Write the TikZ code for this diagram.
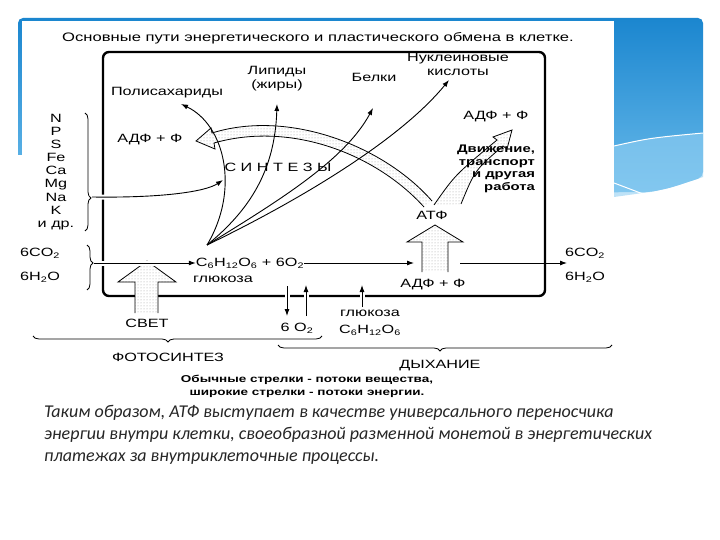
\documentclass[tikz,border=0pt]{standalone}
\usepackage{fontspec}
\setmainfont[FakeStretch=1.35]{Liberation Sans}
\newfontfamily\slidefont{Carlito}
\usetikzlibrary{arrows.meta,patterns,decorations.pathreplacing,positioning}

\definecolor{slideblue}{HTML}{1B86CF}
\definecolor{slidelight}{HTML}{6BBCEB}
\definecolor{swooshblue}{HTML}{93D0F3}

\tikzset{
  lbl/.style={font=\fontsize{12}{14}\selectfont, inner sep=0pt},
  matter/.style={line width=0.9pt, -{Latex[length=7pt,width=5pt]}},
  gapw/.style={preaction={draw=white, line width=5pt, arrows=-}},
  energy/.style={line width=0.8pt, pattern=dots, pattern color=gray!75},
  cellwall/.style={line width=2.4pt, rounded corners=6pt},
  brc/.style={decorate, decoration={brace, amplitude=6pt, aspect=#1}, line width=0.8pt},
}

\begin{document}
\begin{tikzpicture}[x=1pt,y=-1pt]
\useasboundingbox (0,0) rectangle (720,540);
\fill[white] (0,0) rectangle (720,540);
% slide decoration
\shade[top color=slideblue, bottom color=slidelight, rounded corners=5pt]
  (18,18) -- (703,18) -- (703,177) .. controls (670,188) .. (650,192) -- (18,197) -- cycle;
\fill[swooshblue, opacity=0.6] (614,146) .. controls (650,138) .. (703,133) -- (703,177) .. controls (670,188) .. (650,192) -- (614,197) -- cycle;
\draw[white, line width=1pt] (614,146) .. controls (650,138) .. (703,133);
\draw[white, line width=1pt] (614,183) .. controls (630,189) .. (643,194);
\fill[white] (22,21) rectangle (614,392);
\fill[white] (15,155) rectangle (23,200);

% title
\node[font=\fontsize{12.3}{14}\selectfont] (title) at (318,38) {Основные пути энергетического и пластического обмена в клетке.};

% cell
\draw[cellwall] (103,52) rectangle (545,296);

% energy bands
\path[energy] (432,201) .. controls (384,146) and (289,109) .. (212,133) -- (211,128) -- (196,141)
  -- (215,149) -- (214,143) .. controls (291,121) and (376,154) .. (424,207) -- cycle;
\draw[line width=0.8pt] (432,201) .. controls (384,146) and (289,109) .. (212,133) -- (211,128) -- (196,141)
  -- (215,149) -- (214,143) .. controls (291,121) and (376,154) .. (424,207);
\path[energy] (434,205) .. controls (455,175) .. (497,140) -- (493,137) -- (512,130) -- (507,149)
  -- (503,146) .. controls (475,170) .. (461,204) -- cycle;
\draw[line width=0.8pt] (434,205) .. controls (455,175) .. (497,140) -- (493,137) -- (512,130) -- (507,149)
  -- (503,146) .. controls (475,170) .. (461,204);

% wide arrows
\path[energy] (422,272) -- (422,242) -- (407,242) -- (435,225) -- (463,242) -- (448,242) -- (448,272) -- cycle;
\draw[line width=0.8pt] (422,272) -- (422,242) -- (407,242) -- (435,225) -- (463,242) -- (448,242) -- (448,272);
\path[energy, preaction={fill=white}] (135,313) -- (135,282) -- (118,282) -- (147,261) -- (176,282) -- (158,282) -- (158,313) -- cycle;
\draw[line width=0.8pt] (135,313) -- (135,282) -- (118,282) -- (147,261) -- (176,282) -- (158,282) -- (158,313);

% labels
\node[lbl] (polysac) at (167,93) {Полисахариды};
\node[lbl, align=center] (lipids) at (277,79) {Липиды\\(жиры)};
\node[lbl] (proteins) at (374,77) {Белки};
\node[lbl, align=center] (nucleic) at (458,64) {Нуклеиновые\\кислоты};
\node[lbl] (adpR) at (496,117) {АДФ + Ф};
\node[lbl, align=right, font=\bfseries\fontsize{11}{12.5}\selectfont] (work) at (496,169) {Движение,\\транспорт\\и другая\\работа};
\node[lbl] (adpL) at (150,140) {АДФ + Ф};
\node[lbl] (synth) at (278,167) {С И Н Т Е З Ы};
\node[font=\fontsize{12}{13.1}\selectfont, inner sep=0pt, align=center] (elems) at (56,172) {N\\P\\S\\Fe\\Ca\\Mg\\Na\\K\\и др.};
\node[lbl] (co2L) at (40,253) {6CO\textsubscript{2}};
\node[lbl] (h2oL) at (40,277) {6H\textsubscript{2}O};
\node[lbl] (gluc) at (250,263) {C\textsubscript{6}H\textsubscript{12}O\textsubscript{6} + 6O\textsubscript{2}};
\node[lbl] (glucname) at (223,279) {глюкоза};
\node[lbl] (atp) at (432,215) {АТФ};
\node[lbl] (adp) at (433,285) {АДФ + Ф};
\node[lbl] (co2R) at (585,253) {6CO\textsubscript{2}};
\node[lbl] (h2oR) at (585,277) {6H\textsubscript{2}O};
\node[lbl] (light) at (147,323) {СВЕТ};
\node[lbl] (oxy) at (297,328) {6 O\textsubscript{2}};
\node[lbl] (glucB) at (370,313) {глюкоза};
\node[lbl] (c6B) at (370,330) {C\textsubscript{6}H\textsubscript{12}O\textsubscript{6}};
\node[lbl] (photo) at (168,357) {ФОТОСИНТЕЗ};
\node[lbl] (resp) at (440,366) {ДЫХАНИЕ};
\node[font=\bfseries\fontsize{10}{13}\selectfont, inner sep=0pt, align=center] (legend) at (307,386) {Обычные стрелки - потоки вещества,\\широкие стрелки - потоки энергии.};
\node[font=\slidefont\itshape\fontsize{18}{22}\selectfont, text=black!85, inner sep=0pt, align=left, anchor=north west] (summary) at (44,405)
  {Таким образом, АТФ выступает в качестве универсального переносчика\\энергии внутри клетки, своеобразной разменной монетой в энергетических\\платежах за внутриклеточные процессы.};

% braces
\draw[brc=0.72] (85,113) -- (85,231);
\draw[brc=0.4] (87,245) -- (87,290);
\draw[brc=0.533] (322,336) -- (33,336);
\draw[brc=0.515] (612,345) -- (278,345);

% points for the connectors
\coordinate (elbr) at (92,197);
\coordinate (synthin) at (223,180);
\coordinate (co2br) at (94,263);
\coordinate (src) at (207,245);
\coordinate (polytip) at (181,104);
\coordinate (liptip) at (277,104);
\coordinate (prottip) at (373,108);
\coordinate (nuctip) at (449,80);
\coordinate (atpL) at (414,263);
\coordinate (atpR) at (460,263);
\coordinate (outR) at (567,263);
\coordinate (downtop) at (287,286);
\coordinate (downend) at (287,316);
\coordinate (uptop) at (306,285);
\coordinate (upend) at (306,316);
\coordinate (glucbot) at (362,307);
\coordinate (gluctop) at (362,285);

% matter flows
\draw[matter, gapw] (elbr) .. controls (160,198) and (205,192) .. (synthin);
\draw[matter, gapw] (co2br) -- (gluc.west);
\draw[matter] (gluc.east) -- (atpL);
\draw[matter] (atpR) -- (outR);
\draw[matter] (src) .. controls (240,190) and (225,125) .. (polytip);
\draw[matter] (src) .. controls (250,210) and (275,170) .. (liptip);
\draw[matter] (src) .. controls (280,200) and (345,160) .. (prottip);
\draw[matter] (src) .. controls (300,200) and (400,140) .. (nuctip);
\draw[matter, gapw] (downtop) -- (downend);
\draw[matter, gapw] (upend) -- (uptop);
\draw[matter, gapw] (glucbot) -- (gluctop);
\end{tikzpicture}
\end{document}
